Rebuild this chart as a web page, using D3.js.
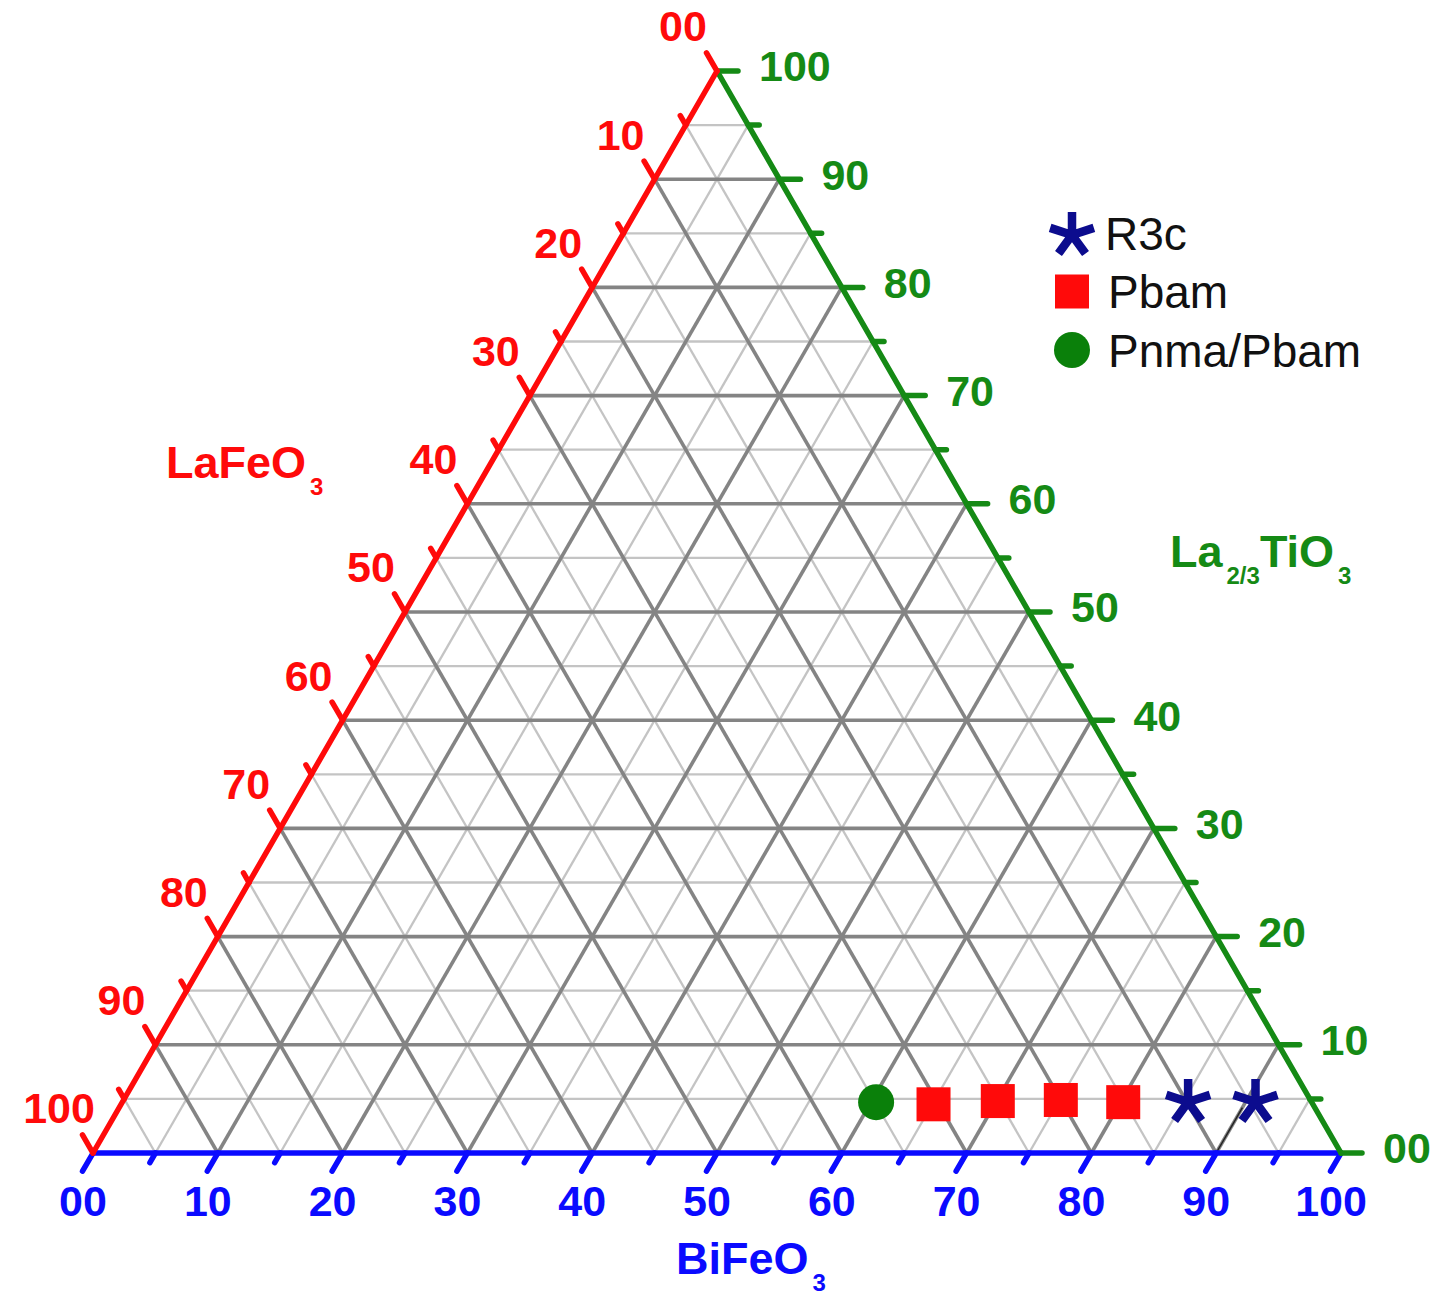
<!DOCTYPE html>
<html>
<head>
<meta charset="utf-8">
<script src="https://cdn.jsdelivr.net/npm/d3@7"></script>
<style>
  body { margin: 0; background: #fff; }
  svg text { font-family: Arial, "Liberation Sans", sans-serif; }
</style>
</head>
<body>
<div id="chart"></div>
<script>
// ternary composition of the samples (percent)
const phases  = ["Pnma/Pbam", "Pbam", "Pbam", "Pbam", "Pbam", "R3c", "R3c"];
const bifeo3  = [60.4, 65.1, 70.1, 75.1, 80.2, 85.3, 90.7];
const la23tio3 = [4.7, 4.5, 4.8, 4.9, 4.7, 4.9, 4.9];
const lafeo3  = [34.9, 30.4, 25.1, 20.0, 15.1, 9.8, 4.4];

const legendLabels = ["R3c", "Pbam", "Pnma/Pbam"];
const tickValues = [0, 10, 20, 30, 40, 50, 60, 70, 80, 90, 100];
const tickLabels = ["00", "10", "20", "30", "40", "50", "60", "70", "80", "90", "100"];
const minorValues = [5, 15, 25, 35, 45, 55, 65, 75, 85, 95];

const width = 1432, height = 1299;
const red = "#ff0a0a", green = "#158a15", blue = "#0a0aff", navy = "#0c0c8e";

const svg = d3.select("#chart").append("svg")
  .attr("width", width)
  .attr("height", height);

// b + c/2 along the base, c upward
const xScale = d3.scaleLinear().domain([0, 100]).range([93, 1341]);
const yScale = d3.scaleLinear().domain([0, 100]).range([1153, 71]);
const pt = (b, c) => [xScale(b + c / 2), yScale(c)];

// grid lines, minor first
function gridLines(values, cls, color, w) {
  const g = svg.append("g").attr("class", cls)
    .attr("stroke", color).attr("stroke-width", w);
  values.filter(v => v > 0 && v < 100).forEach(v => {
    const segs = [
      [pt(0, v), pt(100 - v, v)],        // La2/3TiO3 const
      [pt(v, 0), pt(v, 100 - v)],        // BiFeO3 const
      [pt(100 - v, 0), pt(0, 100 - v)]   // LaFeO3 const
    ];
    segs.forEach(s => g.append("line")
      .attr("x1", s[0][0]).attr("y1", s[0][1])
      .attr("x2", s[1][0]).attr("y2", s[1][1]));
  });
}
gridLines(minorValues, "grid-minor", "#c4c4c4", 2.3);
gridLines(tickValues, "grid-major", "#848484", 3.6);

// thin drop line under the last star
const d0 = pt(90, 0), d1 = pt(90, 4.2);
svg.append("line")
  .attr("x1", d0[0]).attr("y1", d0[1]).attr("x2", d1[0]).attr("y2", d1[1])
  .attr("stroke", "#222").attr("stroke-width", 1.5);

// axes
const s3 = Math.sqrt(3) / 2;
const axes = [
  { name: "bottom", color: blue, pos: v => pt(v, 0), dir: [-0.5, s3],
    label: p => [p[0] - 10, p[1] + 48], anchor: "middle" },
  { name: "right", color: green, pos: v => pt(100 - v, v), dir: [1, 0],
    label: p => [p[0] + 42, p[1] - 5], anchor: "start" },
  { name: "left", color: red, pos: v => pt(0, 100 - v), dir: [-0.5, -s3],
    label: p => [p[0] - 34, p[1] - 45], anchor: "middle" }
];

axes.forEach(ax => {
  const g = svg.append("g").attr("class", "axis " + ax.name);
  const p0 = ax.pos(0), p1 = ax.pos(100);
  g.append("line")
    .attr("x1", p0[0]).attr("y1", p0[1]).attr("x2", p1[0]).attr("y2", p1[1])
    .attr("stroke", ax.color).attr("stroke-width", 5.5)
    .attr("stroke-linecap", "round");

  const ticks = tickValues.map(v => ({ v, len: 21 }))
    .concat(minorValues.map(v => ({ v, len: 11 })));
  g.selectAll("line.tick").data(ticks).enter().append("line")
    .attr("class", "tick")
    .attr("x1", d => ax.pos(d.v)[0]).attr("y1", d => ax.pos(d.v)[1])
    .attr("x2", d => ax.pos(d.v)[0] + ax.dir[0] * d.len)
    .attr("y2", d => ax.pos(d.v)[1] + ax.dir[1] * d.len)
    .attr("stroke", ax.color).attr("stroke-width", 5.5)
    .attr("stroke-linecap", "round");

  g.selectAll("text").data(tickValues).enter().append("text")
    .attr("x", d => ax.label(ax.pos(d))[0])
    .attr("y", d => ax.label(ax.pos(d))[1])
    .attr("dy", "0.36em")
    .attr("text-anchor", ax.anchor)
    .attr("fill", ax.color)
    .attr("font-size", 43)
    .attr("font-weight", "bold")
    .text((d, i) => tickLabels[i]);
});

// axis titles with subscripts
function title(x, y, color, parts) {
  const t = svg.append("text").attr("x", x).attr("y", y)
    .attr("fill", color).attr("font-weight", "bold").attr("font-size", 45);
  parts.forEach(p => {
    t.append("tspan").text(p[0])
      .attr("font-size", p[1] ? 24 : 45)
      .attr("dx", p[1] ? 4 : 0)
      .attr("dy", p[1] ? 17 : (p[2] || 0));
  });
}
title(166, 478, red, [["LaFeO"], ["3", true]]);
title(1170, 567, green, [["La"], ["2/3", true], ["TiO", false, -17], ["3", true]]);
title(676, 1274, blue, [["BiFeO"], ["3", true]]);

// markers
const star = {
  draw(ctx, size) {
    const r = Math.sqrt(size);
    for (let k = 0; k < 5; k++) {
      const ang = -Math.PI / 2 + k * 2 * Math.PI / 5;
      ctx.moveTo(0, 0);
      ctx.lineTo(r * Math.cos(ang), r * Math.sin(ang));
    }
  }
};

function drawMarker(g, phase, x, y) {
  if (phase === "R3c") {
    g.append("path").attr("d", d3.symbol(star, 23 * 23)())
      .attr("transform", `translate(${x},${y + 2})`)
      .attr("fill", "none").attr("stroke", navy).attr("stroke-width", 8.5);
  } else if (phase === "Pbam") {
    g.append("rect").attr("x", x - 17).attr("y", y - 17)
      .attr("width", 34).attr("height", 34).attr("fill", red);
  } else {
    g.append("circle").attr("cx", x).attr("cy", y).attr("r", 18)
      .attr("fill", "#0a800a");
  }
}

const points = svg.append("g").attr("class", "points");
phases.forEach((ph, i) => {
  const p = pt(bifeo3[i], la23tio3[i]);
  drawMarker(points, ph, p[0], p[1]);
});

// legend
const legendY = d3.scalePoint().domain(legendLabels).range([233, 350]);
const legend = svg.append("g").attr("class", "legend");
legendLabels.forEach(l => {
  drawMarker(legend, l, 1072, legendY(l));
  legend.append("text")
    .attr("x", l === "R3c" ? 1105 : 1108)
    .attr("y", legendY(l))
    .attr("dy", "0.36em")
    .attr("font-size", 46)
    .attr("fill", "#111")
    .text(l);
});
</script>
</body>
</html>
